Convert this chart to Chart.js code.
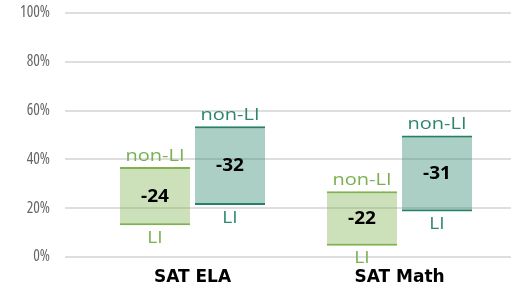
<!DOCTYPE html>
<html><head><meta charset="utf-8">
<script src="https://cdn.jsdelivr.net/npm/chart.js@4/dist/chart.umd.min.js"></script>
<style>html,body{margin:0;padding:0;background:#fff}#wrap{width:519px;height:288px}</style>
</head><body><div id="wrap"><canvas id="c" width="519" height="288"></canvas></div>
<script>
const categories = ['SAT ELA', 'SAT Math'];
const seriesNames = ['Group A', 'Group B'];
const lightLI = [13.0, 4.6];
const lightNonLI = [36.9, 26.9];
const darkLI = [21.3, 18.6];
const darkNonLI = [53.6, 49.8];
const yTicks = [0, 20, 40, 60, 80, 100];
const lowLabel = 'LI';
const highLabel = 'non-LI';

const lowVals = [lightLI, darkLI];
const highVals = [lightNonLI, darkNonLI];

const gridPlugin = {
  id: 'extGrid',
  beforeDatasetsDraw(chart) {
    const { ctx, chartArea, scales: { y } } = chart;
    ctx.save();
    ctx.strokeStyle = '#dedede';
    ctx.lineWidth = 2;
    y.ticks.forEach(t => {
      const py = Math.round(y.getPixelForValue(t.value));
      ctx.beginPath();
      ctx.moveTo(chartArea.left - 24, py);
      ctx.lineTo(chartArea.right + 8, py);
      ctx.stroke();
    });
    ctx.restore();
  }
};

function stretchText(ctx, text, x, y, sx) {
  ctx.save();
  ctx.translate(x, y);
  ctx.scale(sx, 1);
  ctx.fillText(text, 0, 0);
  ctx.restore();
}

const labelPlugin = {
  id: 'rangeLabels',
  afterDatasetsDraw(chart) {
    const { ctx, scales: { y } } = chart;
    chart.data.datasets.forEach((ds, di) => {
      const meta = chart.getDatasetMeta(di);
      meta.data.forEach((el, i) => {
        const lo = lowVals[di][i], hi = highVals[di][i];
        const yHi = y.getPixelForValue(hi);
        const yLo = y.getPixelForValue(lo);
        ctx.save();
        ctx.textAlign = 'center';
        ctx.textBaseline = 'alphabetic';
        ctx.fillStyle = ds.textColor;
        ctx.font = '16px "Open Sans"';
        stretchText(ctx, highLabel, el.x, yHi - 6, 1.25);
        stretchText(ctx, lowLabel, el.x, yLo + 17.5, 1.2);
        ctx.fillStyle = '#000';
        ctx.font = 'bold 17px "Open Sans"';
        ctx.textBaseline = 'middle';
        stretchText(ctx, String(Math.round(lo - hi)), el.x, (yHi + yLo) / 2 + 1, 1.12);
        ctx.restore();
      });
    });
  }
};

new Chart(document.getElementById('c'), {
  type: 'bar',
  data: {
    labels: categories,
    datasets: [
      {
        label: seriesNames[0],
        data: categories.map((_, i) => [lightLI[i], lightNonLI[i]]),
        backgroundColor: 'rgba(127,178,79,0.4)',
        borderColor: 'rgb(127,178,79)',
        textColor: 'rgb(122,176,80)',
        borderWidth: { top: 2, bottom: 2, left: 0, right: 0 },
        borderSkipped: false,
        categoryPercentage: 0.725,
        barPercentage: 0.933
      },
      {
        label: seriesNames[1],
        data: categories.map((_, i) => [darkLI[i], darkNonLI[i]]),
        backgroundColor: 'rgba(45,135,110,0.4)',
        borderColor: 'rgb(38,128,104)',
        textColor: 'rgb(45,135,110)',
        borderWidth: { top: 2, bottom: 2, left: 0, right: 0 },
        borderSkipped: false,
        categoryPercentage: 0.725,
        barPercentage: 0.933
      }
    ]
  },
  options: {
    responsive: false,
    animation: false,
    devicePixelRatio: 1,
    layout: { padding: { top: 13, right: 16, left: 0, bottom: 0 } },
    plugins: { legend: { display: false }, tooltip: { enabled: false } },
    scales: {
      x: {
        grid: { display: false, drawTicks: false },
        border: { display: false },
        ticks: { font: { family: 'DejaVu Sans', weight: 'bold', size: 17 }, color: '#000', padding: 10.5, maxRotation: 0 },
        afterFit(s) { s.height = 31; s.paddingLeft = 0; s.paddingRight = 0; }
      },
      y: {
        min: 0, max: 100,
        afterBuildTicks(s) { s.ticks = yTicks.map(v => ({ value: v })); },
        ticks: {
          callback: v => v + '%',
          font: { family: '"Open Sans"', weight: 'condensed', size: 15.5 },
          color: '#666666',
          padding: 39
        },
        grid: { display: false, drawTicks: false },
        border: { display: false },
        afterFit(s) { s.width = 89; s.paddingTop = 8; s.paddingBottom = 8; }
      }
    }
  },
  plugins: [gridPlugin, labelPlugin]
});
</script>
</body></html>
